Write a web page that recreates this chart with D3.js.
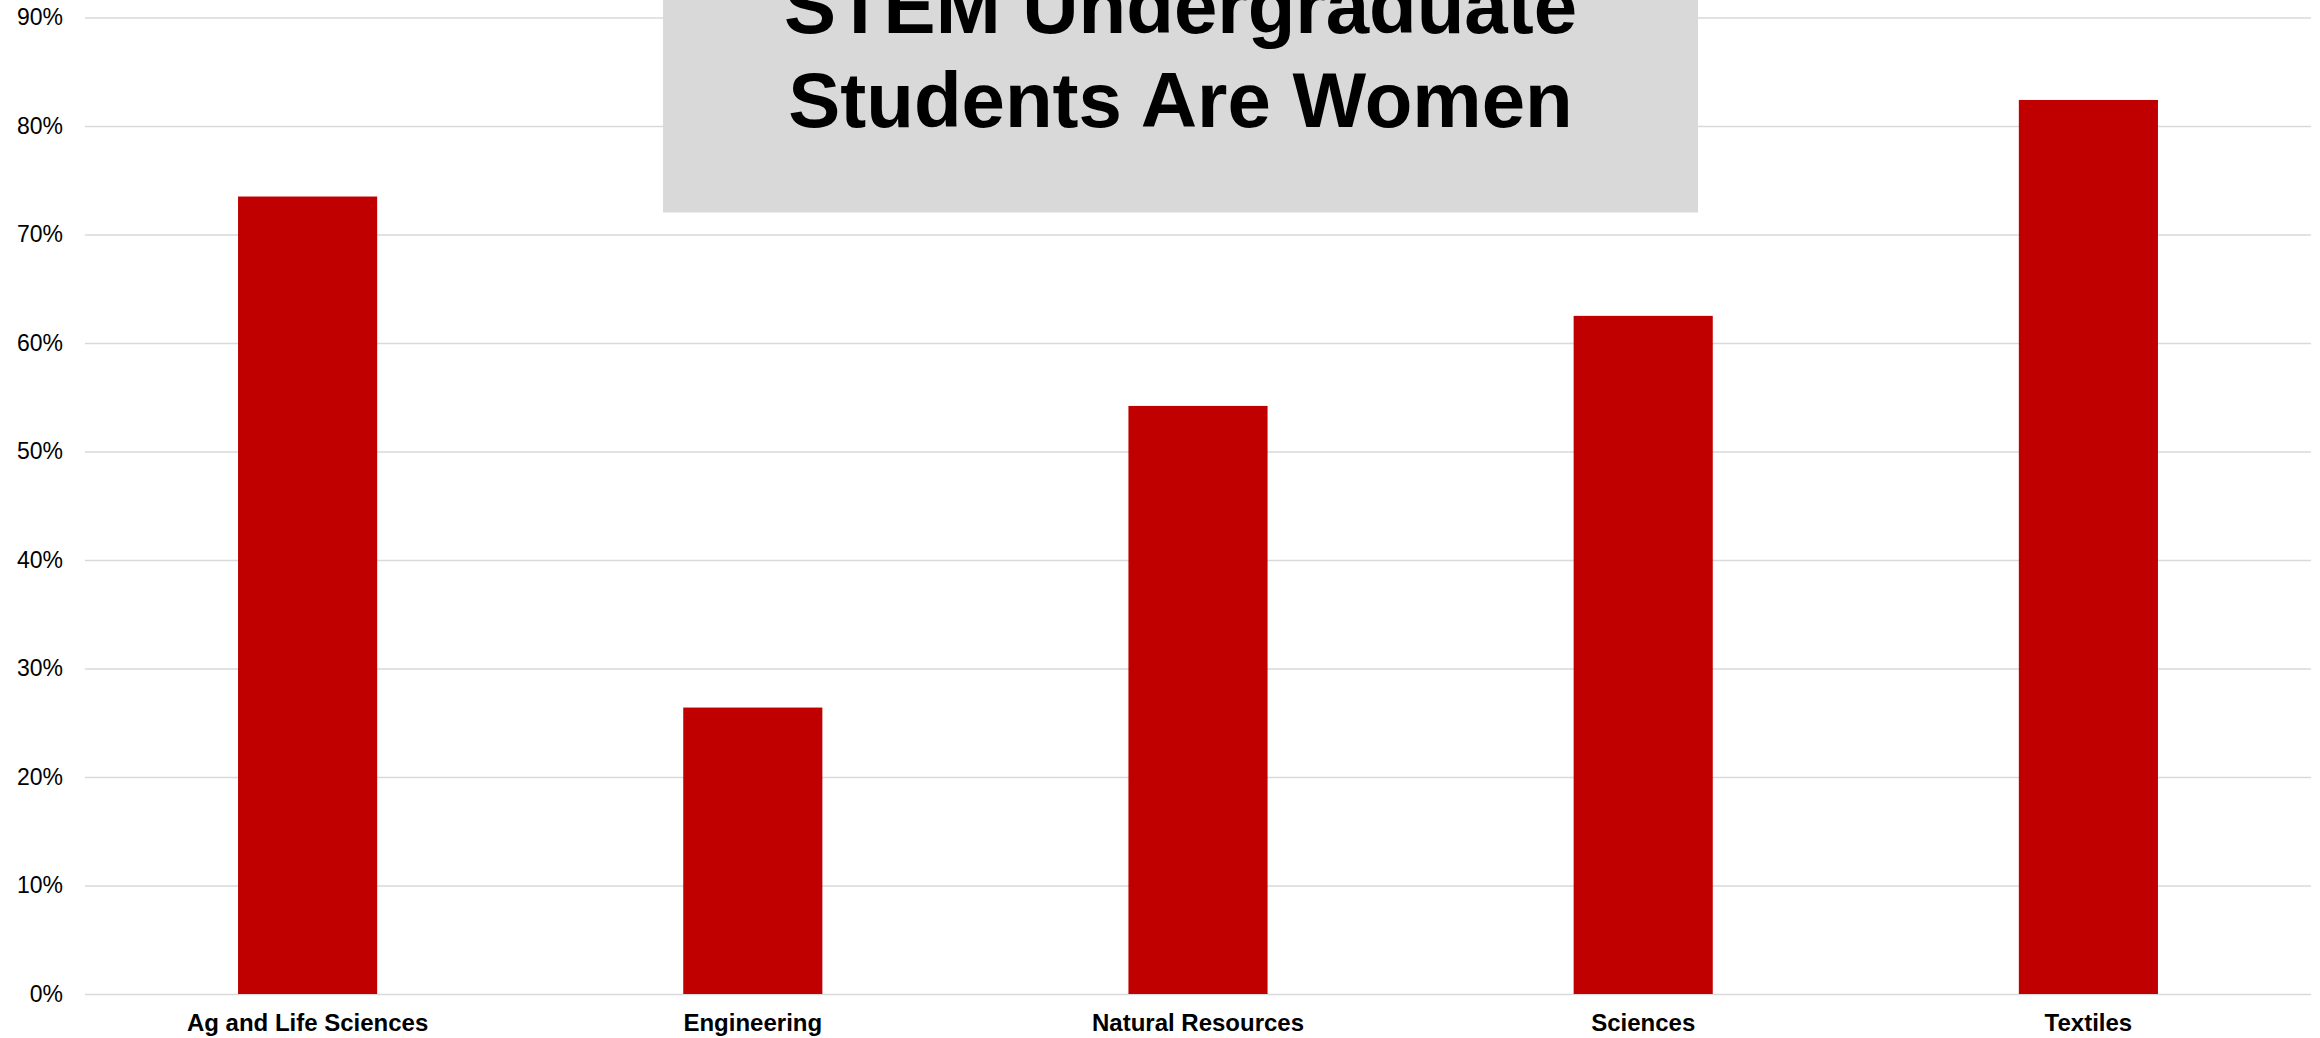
<!DOCTYPE html>
<html>
<head>
<meta charset="utf-8">
<script src="https://cdn.jsdelivr.net/npm/d3@7"></script>
<style>
  html, body { margin: 0; padding: 0; background: #ffffff; }
  svg { display: block; font-family: "Liberation Sans", Arial, sans-serif; }
</style>
</head>
<body>
<svg id="chart" width="2320" height="1038"></svg>
<script>
// Share of undergraduate students who are women, by college
const categories = ["Ag and Life Sciences", "Engineering", "Natural Resources", "Sciences", "Textiles"];
const shareWomen = [0.735, 0.264, 0.542, 0.625, 0.824];
const yTicks = [0, 0.1, 0.2, 0.3, 0.4, 0.5, 0.6, 0.7, 0.8, 0.9];
const titleLines = ["STEM Undergraduate", "Students Are Women"];

const data = categories.map((c, i) => ({ category: c, value: shareWomen[i] }));

const svg = d3.select("#chart");
const plot = { left: 85, right: 2311, top: 17.5, bottom: 994 };

const x = d3.scaleBand()
  .domain(categories)
  .range([plot.left, plot.right])
  .paddingInner(0.6875)
  .paddingOuter(0.34375);

const y = d3.scaleLinear()
  .domain([0, 0.9])
  .range([plot.bottom, plot.top]);

// Horizontal gridlines with percentage labels
const yAxis = svg.append("g")
  .attr("transform", `translate(${plot.left},0)`)
  .call(d3.axisLeft(y)
    .tickValues(yTicks)
    .tickFormat(d3.format(".0%"))
    .tickSizeInner(-(plot.right - plot.left))
    .tickSizeOuter(0)
    .tickPadding(22));
yAxis.select(".domain").remove();
yAxis.selectAll(".tick line")
  .attr("stroke", "#d9d9d9")
  .attr("stroke-width", 1.5);
yAxis.selectAll(".tick text")
  .attr("fill", "#000000")
  .style("font-size", "23px");

// Bars
svg.append("g")
  .selectAll("rect")
  .data(data)
  .join("rect")
  .attr("x", d => x(d.category))
  .attr("y", d => y(d.value))
  .attr("width", x.bandwidth())
  .attr("height", d => y(0) - y(d.value))
  .attr("fill", "#c00000");

// Category labels
const xAxis = svg.append("g")
  .attr("transform", `translate(0,${plot.bottom})`)
  .call(d3.axisBottom(x).tickSize(0).tickPadding(20));
xAxis.select(".domain").remove();
xAxis.selectAll(".tick text")
  .attr("fill", "#000000")
  .style("font-size", "24px")
  .style("font-weight", "bold");

// Title panel
const titleBox = { x: 663, width: 1035, bottom: 212.5 };
svg.append("rect")
  .attr("x", titleBox.x)
  .attr("y", -120)
  .attr("width", titleBox.width)
  .attr("height", titleBox.bottom + 120)
  .attr("fill", "#d9d9d9");

svg.append("g")
  .selectAll("text")
  .data(titleLines)
  .join("text")
  .attr("x", titleBox.x + titleBox.width / 2)
  .attr("y", (d, i) => 33 + i * 94)
  .attr("text-anchor", "middle")
  .attr("fill", "#000000")
  .style("font-size", "78px")
  .style("font-weight", "bold")
  .text(d => d);
</script>
</body>
</html>
